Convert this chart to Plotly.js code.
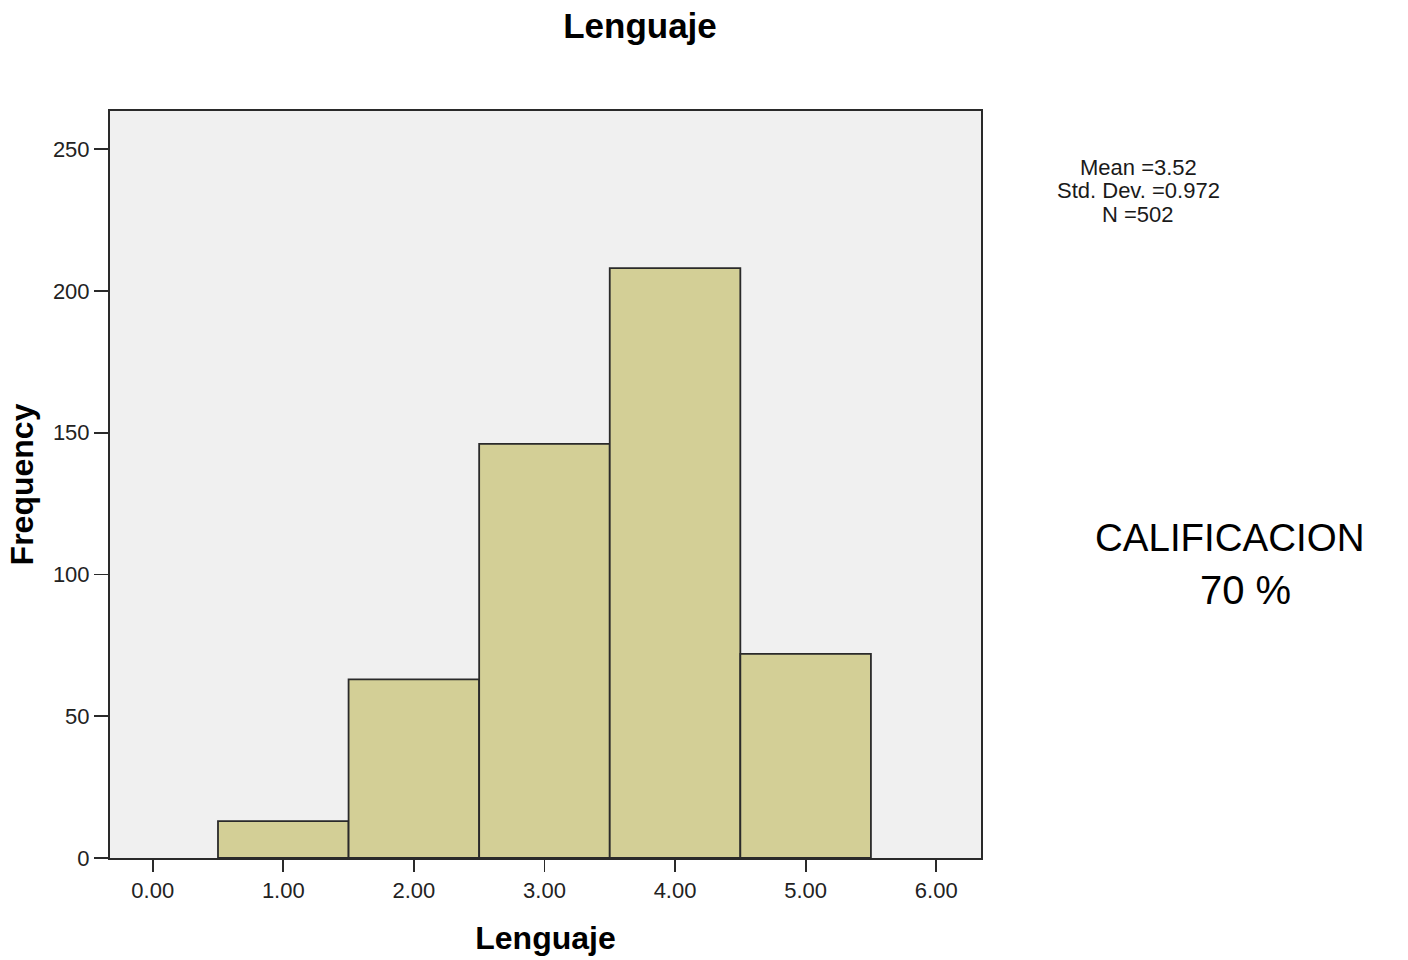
<!DOCTYPE html>
<html>
<head>
<meta charset="utf-8">
<script src="https://cdn.plot.ly/plotly-3.0.1.min.js"></script>
<style>html,body{margin:0;padding:0;background:#fff;}#chart{width:1408px;height:960px;}</style>
</head>
<body>
<div id="chart"></div>
<script>
// Data
const binCenters = [1, 2, 3, 4, 5];
const frequencies = [13, 63, 146, 208, 72];
const xTickVals = [0, 1, 2, 3, 4, 5, 6];
const yTickVals = [0, 50, 100, 150, 200, 250];
const statLines = ['Mean =3.52', 'Std. Dev. =0.972', 'N =502'];
const noteLines = ['CALIFICACION', '70 %'];
const chartTitle = 'Lenguaje';
const xTitle = 'Lenguaje';
const yTitle = 'Frequency';

const FONT = 'Liberation Sans, Arial, Helvetica, sans-serif';

const trace = {
  type: 'bar',
  x: binCenters,
  y: frequencies,
  width: 1,
  marker: { color: '#d3cf96', line: { color: '#2a2a2a', width: 1.8 } },
  hoverinfo: 'x+y'
};

const statY = [0.925, 0.8942, 0.8621];
const annotations = statLines.map((t, i) => ({
  text: t, xref: 'paper', yref: 'paper', x: 1.1803, y: statY[i],
  xanchor: 'center', yanchor: 'middle', showarrow: false,
  font: { family: FONT, size: 22, color: '#1a1a1a' }
}));
annotations.push({
  text: noteLines[0], xref: 'paper', yref: 'paper', x: 1.2864, y: 0.4297,
  xanchor: 'center', yanchor: 'middle', showarrow: false,
  font: { family: FONT, size: 38.5, color: '#000' }
});
annotations.push({
  text: noteLines[1], xref: 'paper', yref: 'paper', x: 1.3031, y: 0.3588,
  xanchor: 'center', yanchor: 'middle', showarrow: false,
  font: { family: FONT, size: 40, color: '#000' }
});

const layout = {
  width: 1408, height: 960,
  margin: { l: 110, r: 427, t: 111, b: 102, pad: 0 },
  paper_bgcolor: '#ffffff',
  plot_bgcolor: '#f0f0f0',
  showlegend: false,
  bargap: 0,
  title: {
    text: '<b>' + chartTitle + '</b>',
    xref: 'container', yref: 'container',
    x: 640 / 1408, y: 1 - 26 / 960,
    xanchor: 'center', yanchor: 'middle',
    font: { family: FONT, size: 35, color: '#000' }
  },
  xaxis: {
    range: [-0.327, 6.343],
    tickvals: xTickVals,
    tickformat: '.2f',
    ticks: 'outside', ticklen: 12, tickwidth: 1.8, tickcolor: '#2a2a2a',
    showgrid: false, zeroline: false,
    showline: true, linecolor: '#2a2a2a', linewidth: 2, mirror: true,
    tickfont: { family: FONT, size: 22, color: '#222' },
    title: { text: '<b>' + xTitle + '</b>', standoff: 24,
             font: { family: FONT, size: 32, color: '#000' } }
  },
  yaxis: {
    range: [0, 263.4],
    tickvals: yTickVals,
    ticks: 'outside', ticklen: 14, tickwidth: 1.8, tickcolor: '#2a2a2a',
    showgrid: false, zeroline: false,
    showline: true, linecolor: '#2a2a2a', linewidth: 2, mirror: true,
    tickfont: { family: FONT, size: 22, color: '#222' },
    title: { text: '<b>' + yTitle + '</b>', standoff: 10,
             font: { family: FONT, size: 32, color: '#000' } }
  },
  annotations: annotations
};

Plotly.newPlot('chart', [trace], layout, { displayModeBar: false, staticPlot: true });
</script>
</body>
</html>
